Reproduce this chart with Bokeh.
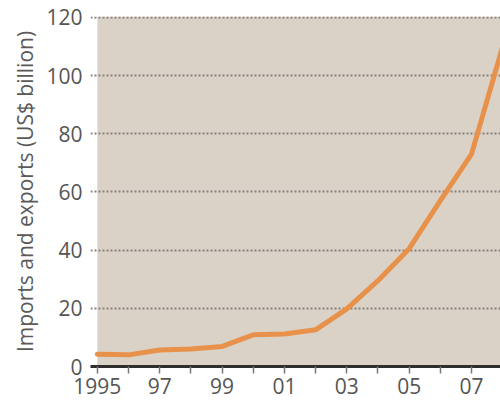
from bokeh.plotting import figure
from bokeh.models import Range1d, FixedTicker, BoxAnnotation
from bokeh.embed import file_html
from bokeh.resources import INLINE

years = [1995, 1996, 1997, 1998, 1999, 2000, 2001, 2002, 2003, 2004, 2005, 2006, 2007, 2008]
values = [4.2, 4.0, 5.7, 6.0, 6.9, 10.9, 11.2, 12.6, 19.8, 29.5, 40.5, 57.0, 73.0, 110.0]
y_ticks = [0, 20, 40, 60, 80, 100, 120]
x_labels = {1995: "1995", 1997: "97", 1999: "99", 2001: "01", 2003: "03", 2005: "05", 2007: "07"}

FONT = "Open Sans"

p = figure(width=500, height=400, output_backend="svg", toolbar_location=None,
           x_range=Range1d(1994.78, 2007.93), y_range=Range1d(0, 120.3),
           min_border_left=90, min_border_right=0, min_border_top=16, min_border_bottom=34)
p.outline_line_color = None
p.background_fill_color = "white"
p.border_fill_color = "white"

bg = BoxAnnotation(left=years[0], fill_color="#dbd2c7", fill_alpha=1.0, line_color=None, level="image")
p.add_layout(bg)

p.line(years, values, line_color="#e8914a", line_width=5, line_join="round", line_cap="round")

# grids
p.xgrid.grid_line_color = None
p.ygrid.ticker = FixedTicker(ticks=y_ticks[1:])
p.ygrid.grid_line_color = "#86817b"
p.ygrid.grid_line_dash = "2 2"
p.ygrid.grid_line_width = 2

# y axis
ya = p.yaxis[0]
ya.ticker = FixedTicker(ticks=y_ticks)
ya.axis_line_color = None
ya.major_tick_line_color = None
ya.minor_tick_line_color = None
ya.major_tick_out = 0
ya.major_tick_in = 0
ya.major_label_text_font = FONT
ya.major_label_text_font_size = "21px"
ya.major_label_text_color = "#555555"
ya.major_label_standoff = 8
ya.axis_label = "Imports and exports (US$ billion)"
ya.axis_label_text_font = FONT
ya.axis_label_text_font_size = "21px"
ya.axis_label_text_font_style = "normal"
ya.axis_label_text_color = "#5a5a5a"
ya.axis_label_standoff = 4

# x axis
xa = p.xaxis[0]
xa.ticker = FixedTicker(ticks=years)
xa.major_label_overrides = {y: x_labels.get(y, "") for y in years}
xa.axis_line_color = "#2e2e2e"
xa.axis_line_width = 3
xa.major_tick_line_color = "#777777"
xa.major_tick_line_width = 1.5
xa.major_tick_out = 7
xa.major_tick_in = 0
xa.minor_tick_line_color = None
xa.major_label_text_font = FONT
xa.major_label_text_font_size = "21px"
xa.major_label_text_color = "#555555"
xa.major_label_standoff = 4

open("out.html", "w").write(file_html(p, INLINE))
